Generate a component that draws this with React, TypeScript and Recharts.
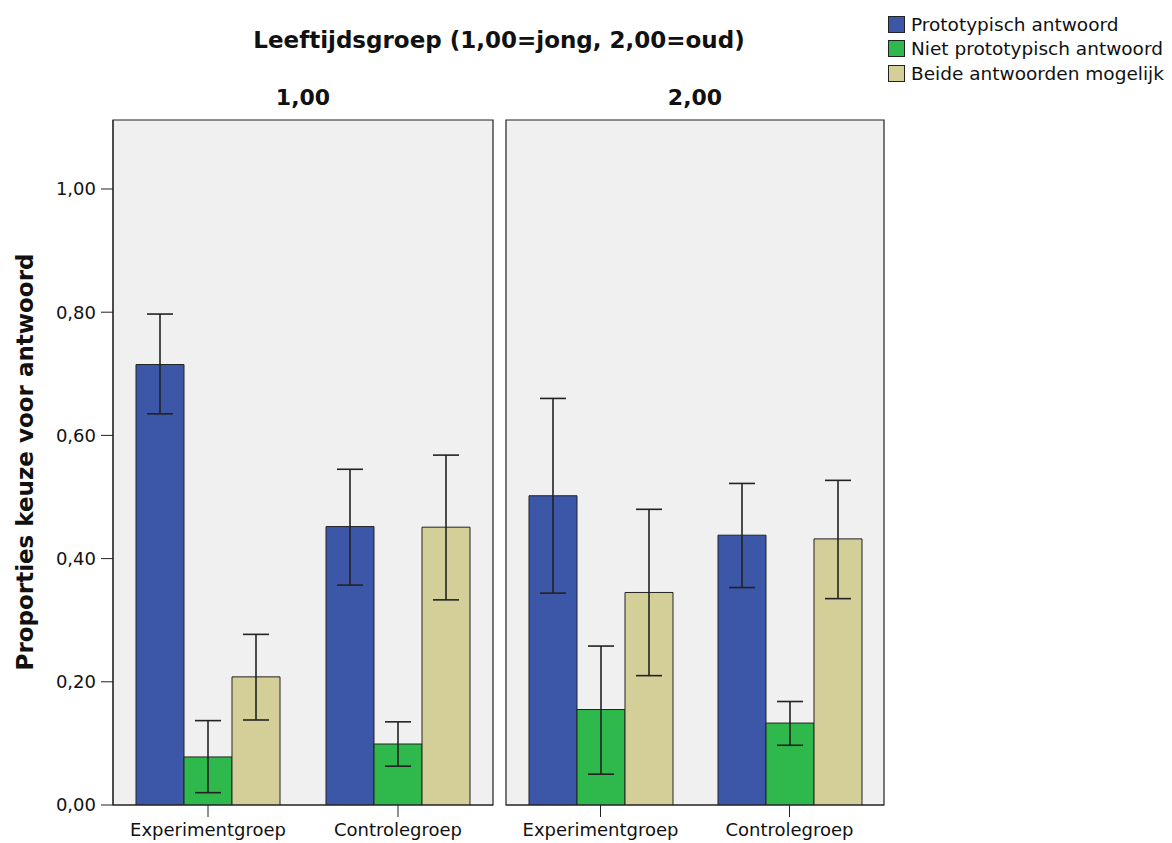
import { Bar, BarChart, ErrorBar, ReferenceArea, XAxis, YAxis } from 'recharts'

const groups = ['Experimentgroep', 'Controlegroep']
const yTicks = [0, 0.2, 0.4, 0.6, 0.8, 1.0]
const yMax = 1.112
const seriesNames = ['Prototypisch antwoord', 'Niet prototypisch antwoord', 'Beide antwoorden mogelijk']
const seriesColors = ['#3d57a8', '#2fb84b', '#d4cf99']

// 1,00 = jong
const jongProto = [0.715, 0.452]
const jongProtoLow = [0.635, 0.357]
const jongProtoHigh = [0.797, 0.545]
const jongNiet = [0.078, 0.099]
const jongNietLow = [0.02, 0.063]
const jongNietHigh = [0.137, 0.135]
const jongBeide = [0.208, 0.451]
const jongBeideLow = [0.138, 0.333]
const jongBeideHigh = [0.277, 0.568]

// 2,00 = oud
const oudProto = [0.502, 0.438]
const oudProtoLow = [0.344, 0.353]
const oudProtoHigh = [0.66, 0.522]
const oudNiet = [0.155, 0.133]
const oudNietLow = [0.05, 0.097]
const oudNietHigh = [0.258, 0.168]
const oudBeide = [0.345, 0.432]
const oudBeideLow = [0.21, 0.335]
const oudBeideHigh = [0.48, 0.527]

const font = '"DejaVu Sans", sans-serif'
const ink = '#222'

const err = (mean: number[], low: number[], high: number[], i: number) => [mean[i] - low[i], high[i] - mean[i]]

const jongRows = groups.map((group, i) => ({
  group,
  proto: jongProto[i],
  niet: jongNiet[i],
  beide: jongBeide[i],
  protoErr: err(jongProto, jongProtoLow, jongProtoHigh, i),
  nietErr: err(jongNiet, jongNietLow, jongNietHigh, i),
  beideErr: err(jongBeide, jongBeideLow, jongBeideHigh, i),
}))

const oudRows = groups.map((group, i) => ({
  group,
  proto: oudProto[i],
  niet: oudNiet[i],
  beide: oudBeide[i],
  protoErr: err(oudProto, oudProtoLow, oudProtoHigh, i),
  nietErr: err(oudNiet, oudNietLow, oudNietHigh, i),
  beideErr: err(oudBeide, oudBeideLow, oudBeideHigh, i),
}))

const keys = ['proto', 'niet', 'beide']

type PanelProps = {
  rows: typeof jongRows
  width: number
  left: number
  showY: boolean
}

function Panel({ rows, width, left, showY }: PanelProps) {
  return (
    <BarChart
      width={width}
      height={843}
      data={rows}
      margin={{ top: 120, right: 6, bottom: 0, left: showY ? 0 : left }}
      barCategoryGap={23}
      barGap={0}
    >
      <XAxis
        dataKey="group"
        height={38}
        tickSize={12}
        tickMargin={6}
        stroke={ink}
        tick={{ fill: '#111', fontSize: 18, fontFamily: font }}
      />
      <YAxis
        hide={!showY}
        width={113}
        domain={[0, yMax]}
        ticks={yTicks}
        allowDataOverflow
        tickSize={12}
        tickMargin={5}
        stroke={ink}
        tick={{ fill: '#111', fontSize: 18, fontFamily: font }}
        tickFormatter={(v: number) => v.toFixed(2).replace('.', ',')}
      />
      <ReferenceArea
        x1={groups[0]}
        x2={groups[groups.length - 1]}
        y1={0}
        y2={yMax}
        fill="#f0f0f0"
        fillOpacity={1}
        stroke={ink}
        strokeWidth={1.2}
        ifOverflow="visible"
      />
      {keys.map((key, i) => (
        <Bar key={key} dataKey={key} name={seriesNames[i]} fill={seriesColors[i]} stroke={ink} strokeWidth={1} isAnimationActive={false}>
          <ErrorBar dataKey={`${key}Err`} width={13} stroke={ink} strokeWidth={1.6} direction="y" />
        </Bar>
      ))}
    </BarChart>
  )
}

export default function App() {
  return (
    <div style={{ position: 'absolute', left: 0, top: 0, width: 1172, height: 843, background: '#fff', fontFamily: font, color: '#111' }}>
      <div style={{ position: 'absolute', left: 0, top: 0 }}>
        <Panel rows={jongRows} width={499} left={0} showY />
      </div>
      <div style={{ position: 'absolute', left: 496, top: 0 }}>
        <Panel rows={oudRows} width={394} left={10} showY={false} />
      </div>

      <div style={{ position: 'absolute', left: 0, width: 998, top: 26, textAlign: 'center', fontSize: 23, fontWeight: 'bold', lineHeight: '28px' }}>
        Leeftijdsgroep (1,00=jong, 2,00=oud)
      </div>
      <div style={{ position: 'absolute', left: 113, width: 380, top: 84, textAlign: 'center', fontSize: 22, fontWeight: 'bold', lineHeight: '28px' }}>
        1,00
      </div>
      <div style={{ position: 'absolute', left: 506, width: 378, top: 84, textAlign: 'center', fontSize: 22, fontWeight: 'bold', lineHeight: '28px' }}>
        2,00
      </div>
      <div
        style={{
          position: 'absolute',
          left: 25 - 250,
          top: 462 - 14,
          width: 500,
          height: 28,
          lineHeight: '28px',
          textAlign: 'center',
          fontSize: 23,
          fontWeight: 'bold',
          transform: 'rotate(-90deg)',
        }}
      >
        Proporties keuze voor antwoord
      </div>

      <div style={{ position: 'absolute', left: 888, top: 12 }}>
        {seriesNames.map((name, i) => (
          <div key={name} style={{ display: 'flex', alignItems: 'center', height: 24.5, fontSize: 18.5, whiteSpace: 'nowrap' }}>
            <span style={{ width: 15, height: 15, background: seriesColors[i], border: `1.5px solid ${ink}`, marginRight: 6 }} />
            {name}
          </div>
        ))}
      </div>
    </div>
  )
}
